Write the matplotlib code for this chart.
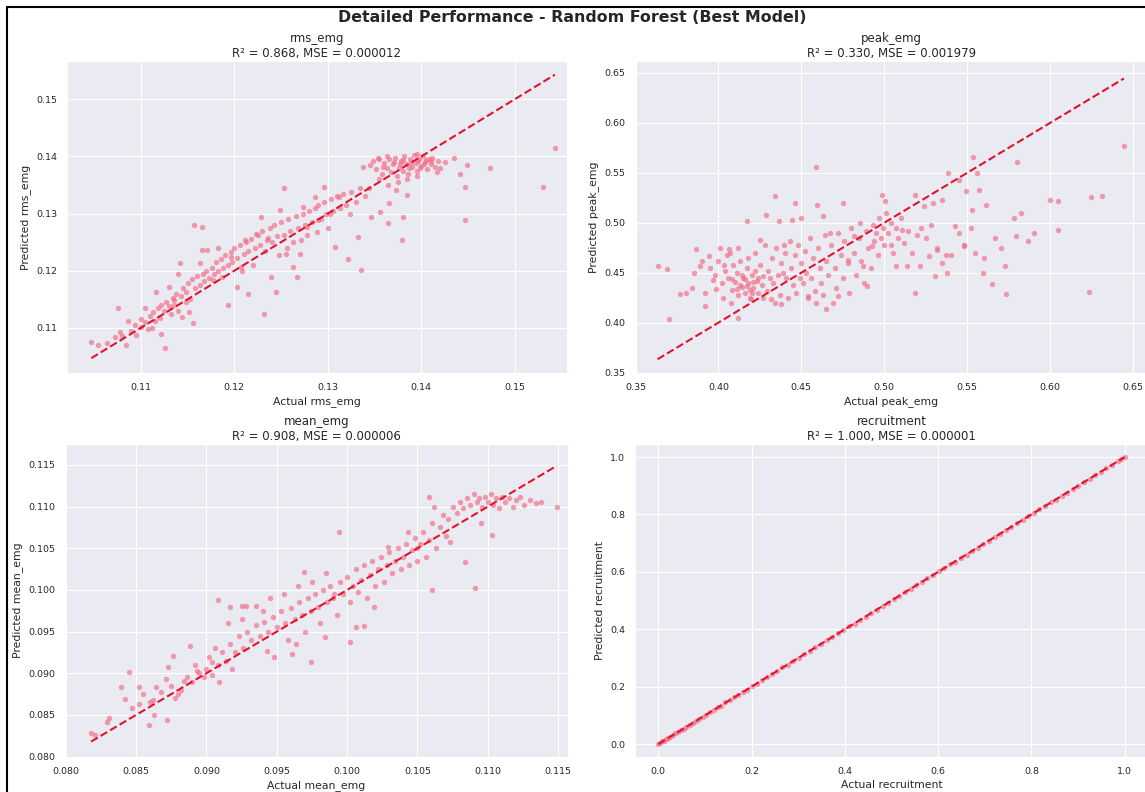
import matplotlib.pyplot as plt
from matplotlib.lines import Line2D
import numpy as np
import seaborn as sns

sns.set_style("darkgrid", {"grid.linewidth": 0.5})
plt.rcParams["font.family"] = "DejaVu Sans"

title = "Detailed Performance - Random Forest (Best Model)"
targets = ["rms_emg", "peak_emg", "mean_emg", "recruitment"]
r2 = [0.868, 0.330, 0.908, 1.000]
mse = [0.000012, 0.001979, 0.000006, 0.000001]

# (actual, predicted)
rms_pts = [
    (0.1047, 0.1075), (0.1054, 0.1070), (0.1064, 0.1073), (0.1072, 0.1084), (0.1076, 0.1134),
    (0.1078, 0.1093), (0.1084, 0.1070), (0.1086, 0.1112), (0.1094, 0.1105), (0.1100, 0.1116),
    (0.1104, 0.1134), (0.1112, 0.1099), (0.1116, 0.1163), (0.1122, 0.1090), (0.1126, 0.1064),
    (0.1130, 0.1172), (0.1136, 0.1148), (0.1140, 0.1195), (0.1142, 0.1213), (0.1144, 0.1119),
    (0.1148, 0.1146), (0.1152, 0.1128), (0.1156, 0.1108), (0.1157, 0.1280), (0.1165, 0.1277),
    (0.1165, 0.1236), (0.1163, 0.1213), (0.1171, 0.1236), (0.1177, 0.1183), (0.1183, 0.1239),
    (0.1187, 0.1189), (0.1193, 0.1140), (0.1197, 0.1224), (0.1203, 0.1172), (0.1207, 0.1207),
    (0.1211, 0.1254), (0.1215, 0.1160), (0.1223, 0.1265), (0.1229, 0.1294), (0.1232, 0.1125),
    (0.1235, 0.1254), (0.1239, 0.1189), (0.1245, 0.1163), (0.1249, 0.1306), (0.1253, 0.1344),
    (0.1255, 0.1230), (0.1263, 0.1207), (0.1267, 0.1189), (0.1271, 0.1254), (0.1274, 0.1312),
    (0.1278, 0.1277), (0.1286, 0.1329), (0.1290, 0.1289), (0.1296, 0.1347), (0.1302, 0.1300),
    (0.1308, 0.1242), (0.1312, 0.1329), (0.1322, 0.1221), (0.1324, 0.1300), (0.1332, 0.1259),
    (0.1336, 0.1201), (0.1338, 0.1382), (0.1344, 0.1344), (0.1346, 0.1294), (0.1354, 0.1397),
    (0.1356, 0.1303), (0.1363, 0.1400), (0.1365, 0.1283), (0.1366, 0.1318), (0.1373, 0.1341),
    (0.1379, 0.1254), (0.1381, 0.1294), (0.1385, 0.1332), (0.1395, 0.1405), (0.1405, 0.1394),
    (0.1417, 0.1373), (0.1425, 0.1391), (0.1435, 0.1397), (0.1441, 0.1370), (0.1447, 0.1347),
    (0.1447, 0.1289), (0.1449, 0.1385), (0.1474, 0.1379), (0.1530, 0.1347), (0.1543, 0.1415),
    (0.1080, 0.1085), (0.1090, 0.1095), (0.1095, 0.1088), (0.1100, 0.1102), (0.1105, 0.1110),
    (0.1108, 0.1098), (0.1110, 0.1120), (0.1113, 0.1128), (0.1115, 0.1112), (0.1118, 0.1135),
    (0.1120, 0.1118), (0.1122, 0.1140), (0.1125, 0.1130), (0.1127, 0.1145), (0.1130, 0.1138),
    (0.1132, 0.1125), (0.1134, 0.1152), (0.1136, 0.1140), (0.1138, 0.1160), (0.1140, 0.1130),
    (0.1143, 0.1155), (0.1145, 0.1170), (0.1148, 0.1162), (0.1150, 0.1178), (0.1153, 0.1150),
    (0.1155, 0.1185), (0.1158, 0.1170), (0.1160, 0.1190), (0.1163, 0.1175), (0.1166, 0.1195),
    (0.1168, 0.1182), (0.1170, 0.1200), (0.1173, 0.1188), (0.1176, 0.1205), (0.1178, 0.1195),
    (0.1180, 0.1215), (0.1183, 0.1200), (0.1186, 0.1220), (0.1188, 0.1205), (0.1190, 0.1228),
    (0.1193, 0.1210), (0.1196, 0.1232), (0.1198, 0.1215), (0.1200, 0.1240), (0.1203, 0.1222),
    (0.1206, 0.1245), (0.1208, 0.1200), (0.1210, 0.1230), (0.1213, 0.1250), (0.1215, 0.1235),
    (0.1218, 0.1255), (0.1220, 0.1210), (0.1222, 0.1240), (0.1225, 0.1262), (0.1228, 0.1245),
    (0.1230, 0.1270), (0.1233, 0.1235), (0.1236, 0.1258), (0.1238, 0.1275), (0.1240, 0.1250),
    (0.1243, 0.1280), (0.1246, 0.1260), (0.1248, 0.1228), (0.1250, 0.1285), (0.1253, 0.1262),
    (0.1256, 0.1240), (0.1258, 0.1290), (0.1260, 0.1270), (0.1263, 0.1250), (0.1266, 0.1295),
    (0.1268, 0.1275), (0.1270, 0.1230), (0.1273, 0.1300), (0.1276, 0.1280), (0.1278, 0.1262),
    (0.1280, 0.1305), (0.1283, 0.1285), (0.1286, 0.1310), (0.1288, 0.1268), (0.1290, 0.1315),
    (0.1293, 0.1290), (0.1296, 0.1320), (0.1298, 0.1300), (0.1300, 0.1275), (0.1303, 0.1325),
    (0.1306, 0.1305), (0.1310, 0.1330), (0.1313, 0.1310), (0.1316, 0.1335), (0.1320, 0.1315),
    (0.1325, 0.1338), (0.1330, 0.1320), (0.1335, 0.1345), (0.1340, 0.1330),
    (0.1345, 0.1385), (0.1348, 0.1392), (0.1352, 0.1378), (0.1355, 0.1395), (0.1358, 0.1370),
    (0.1360, 0.1388), (0.1363, 0.1380), (0.1366, 0.1395), (0.1368, 0.1372), (0.1370, 0.1386),
    (0.1372, 0.1398), (0.1374, 0.1365), (0.1376, 0.1380), (0.1378, 0.1392), (0.1380, 0.1375),
    (0.1382, 0.1400), (0.1384, 0.1386), (0.1386, 0.1370), (0.1388, 0.1395), (0.1390, 0.1382),
    (0.1392, 0.1402), (0.1394, 0.1388), (0.1396, 0.1375), (0.1398, 0.1396), (0.1400, 0.1384),
    (0.1402, 0.1400), (0.1404, 0.1390), (0.1406, 0.1378), (0.1408, 0.1396), (0.1410, 0.1386),
    (0.1412, 0.1398), (0.1415, 0.1382), (0.1418, 0.1392), (0.1420, 0.1380), (0.1375, 0.1355),
    (0.1365, 0.1350), (0.1385, 0.1360), (0.1395, 0.1366), (0.1355, 0.1360),
    (0.1371, 0.1390), (0.1381, 0.1393), (0.1389, 0.1388), (0.1397, 0.1392), (0.1403, 0.1387),
    (0.1411, 0.1392), (0.1359, 0.1382), (0.1387, 0.1379), (0.1399, 0.1380), (0.1377, 0.1386),
]

peak_pts = [
    (0.3633, 0.4565), (0.3688, 0.4538), (0.3704, 0.4039), (0.3766, 0.4282), (0.3806, 0.4298),
    (0.3843, 0.4348), (0.3865, 0.4738), (0.3888, 0.4565), (0.3921, 0.4165), (0.3943, 0.4664),
    (0.3965, 0.4431), (0.3987, 0.4332), (0.4009, 0.4748), (0.4031, 0.4581), (0.4065, 0.4738),
    (0.4076, 0.4199), (0.4120, 0.4049), (0.4175, 0.5014), (0.4198, 0.4232), (0.4253, 0.4831),
    (0.4286, 0.5080), (0.4319, 0.4232), (0.4341, 0.5263), (0.4364, 0.5014), (0.4375, 0.4182),
    (0.4397, 0.4781), (0.4441, 0.5030), (0.4463, 0.5197), (0.4496, 0.5047), (0.4541, 0.4265),
    (0.4589, 0.5563), (0.4596, 0.5180), (0.4629, 0.5063), (0.4651, 0.4132), (0.4674, 0.4897),
    (0.4718, 0.4265), (0.4751, 0.5197), (0.4784, 0.4631), (0.4818, 0.4864), (0.4851, 0.4997),
    (0.4873, 0.4565), (0.4895, 0.4365), (0.4928, 0.4764), (0.4984, 0.5280), (0.5006, 0.5213),
    (0.5039, 0.4781), (0.5072, 0.4565), (0.5105, 0.4930), (0.5139, 0.4565), (0.5183, 0.4298),
    (0.5183, 0.5280), (0.5216, 0.4565), (0.5238, 0.5163), (0.5271, 0.4664), (0.5294, 0.5197),
    (0.5305, 0.4465), (0.5316, 0.4731), (0.5349, 0.5230), (0.5371, 0.4681), (0.5382, 0.5496),
    (0.5426, 0.4964), (0.5449, 0.5429), (0.5482, 0.4764), (0.5493, 0.5313), (0.5526, 0.5130),
    (0.5537, 0.5662), (0.5559, 0.5496), (0.5570, 0.5330), (0.5593, 0.4498), (0.5604, 0.4648),
    (0.5615, 0.5180), (0.5648, 0.4382), (0.5670, 0.4847), (0.5703, 0.4747), (0.5725, 0.4565),
    (0.5736, 0.4282), (0.5781, 0.5047), (0.5792, 0.4864), (0.5803, 0.5612), (0.5825, 0.5097),
    (0.5869, 0.4814), (0.5903, 0.4897), (0.6002, 0.5230), (0.6046, 0.5213), (0.6046, 0.4930),
    (0.6235, 0.4305), (0.6246, 0.5256), (0.6312, 0.5263), (0.6445, 0.5772),
    (0.395, 0.455), (0.398, 0.448), (0.400, 0.462), (0.402, 0.440), (0.404, 0.452),
    (0.405, 0.468), (0.406, 0.445), (0.408, 0.433), (0.409, 0.458), (0.410, 0.441),
    (0.411, 0.450), (0.412, 0.428), (0.413, 0.462), (0.414, 0.436), (0.415, 0.445),
    (0.416, 0.430), (0.417, 0.455), (0.418, 0.440), (0.419, 0.425), (0.420, 0.448),
    (0.421, 0.435), (0.422, 0.470), (0.423, 0.442), (0.424, 0.430), (0.425, 0.458),
    (0.426, 0.438), (0.427, 0.447), (0.428, 0.478), (0.429, 0.432), (0.430, 0.452),
    (0.432, 0.465), (0.433, 0.440), (0.435, 0.475), (0.436, 0.448), (0.437, 0.428),
    (0.438, 0.460), (0.440, 0.470), (0.441, 0.445), (0.443, 0.482), (0.444, 0.455),
    (0.445, 0.438), (0.446, 0.468), (0.448, 0.478), (0.449, 0.445), (0.450, 0.460),
    (0.451, 0.440), (0.452, 0.472), (0.453, 0.450), (0.455, 0.485), (0.456, 0.445),
    (0.457, 0.465), (0.458, 0.432), (0.460, 0.475), (0.461, 0.455), (0.462, 0.440),
    (0.464, 0.488), (0.465, 0.462), (0.466, 0.448), (0.468, 0.478), (0.470, 0.455),
    (0.471, 0.435), (0.472, 0.490), (0.474, 0.468), (0.475, 0.445), (0.476, 0.482),
    (0.478, 0.460), (0.479, 0.430), (0.480, 0.495), (0.482, 0.470), (0.483, 0.448),
    (0.485, 0.485), (0.486, 0.462), (0.488, 0.440), (0.489, 0.492), (0.490, 0.475),
    (0.492, 0.455), (0.493, 0.498), (0.494, 0.482), (0.495, 0.490), (0.496, 0.468),
    (0.497, 0.505), (0.498, 0.485), (0.499, 0.495), (0.500, 0.478), (0.501, 0.510),
    (0.502, 0.490), (0.504, 0.500), (0.505, 0.470), (0.507, 0.495), (0.508, 0.485),
    (0.510, 0.505), (0.512, 0.480), (0.514, 0.492), (0.517, 0.470), (0.520, 0.488),
    (0.522, 0.495), (0.525, 0.485), (0.528, 0.498), (0.532, 0.475), (0.535, 0.460),
    (0.538, 0.450), (0.540, 0.468), (0.545, 0.490), (0.548, 0.478), (0.552, 0.495),
    (0.555, 0.470), (0.403, 0.425), (0.407, 0.470), (0.412, 0.475), (0.418, 0.465),
    (0.424, 0.445), (0.427, 0.425), (0.431, 0.445), (0.434, 0.420), (0.439, 0.450),
    (0.442, 0.425), (0.447, 0.430), (0.454, 0.425), (0.459, 0.420), (0.463, 0.428),
    (0.469, 0.420), (0.385, 0.450), (0.390, 0.462), (0.392, 0.430),
    (0.413, 0.438), (0.416, 0.444), (0.419, 0.433), (0.421, 0.441), (0.417, 0.437),
    (0.411, 0.434), (0.414, 0.448), (0.422, 0.452), (0.420, 0.430), (0.408, 0.444),
]

mean_pts = [
    (0.0818, 0.0828), (0.0821, 0.0826), (0.0829, 0.0842), (0.0831, 0.0846), (0.0839, 0.0883),
    (0.0842, 0.0869), (0.0845, 0.0901), (0.0847, 0.0858), (0.0852, 0.0863), (0.0852, 0.0883),
    (0.0859, 0.0838), (0.0860, 0.0865), (0.0863, 0.0850), (0.0864, 0.0883), (0.0871, 0.0893),
    (0.0872, 0.0844), (0.0873, 0.0907), (0.0876, 0.0921), (0.0880, 0.0875), (0.0884, 0.0891),
    (0.0888, 0.0933), (0.0893, 0.0903), (0.0904, 0.0913), (0.0908, 0.0988), (0.0909, 0.0889),
    (0.0917, 0.0979), (0.0918, 0.0905), (0.0925, 0.0981), (0.0928, 0.0981), (0.0935, 0.0981),
    (0.0943, 0.0927), (0.0948, 0.0919), (0.0961, 0.0923), (0.0964, 0.0935), (0.0969, 0.1022),
    (0.0974, 0.0913), (0.0984, 0.0943), (0.0991, 0.0995), (0.0994, 0.1070), (0.1002, 0.0937),
    (0.1006, 0.0955), (0.1012, 0.0957), (0.1019, 0.0979), (0.1029, 0.1052), (0.1043, 0.1070),
    (0.1050, 0.1050), (0.1060, 0.1000), (0.1073, 0.1058), (0.1084, 0.1034), (0.1091, 0.1002),
    (0.1095, 0.1080), (0.1103, 0.1066), (0.1134, 0.1104), (0.1149, 0.1100), (0.1058, 0.1112),
    (0.1062, 0.1100),
    (0.0855, 0.0875), (0.0862, 0.0868), (0.0868, 0.0878), (0.0875, 0.0885), (0.0878, 0.0870),
    (0.0882, 0.0880), (0.0886, 0.0895), (0.0890, 0.0890), (0.0892, 0.0910), (0.0895, 0.0900),
    (0.0898, 0.0895), (0.0900, 0.0905), (0.0902, 0.0920), (0.0904, 0.0898), (0.0906, 0.0930),
    (0.0908, 0.0910), (0.0911, 0.0925), (0.0914, 0.0915), (0.0917, 0.0935), (0.0920, 0.0925),
    (0.0923, 0.0945), (0.0926, 0.0930), (0.0929, 0.0950), (0.0932, 0.0940), (0.0935, 0.0958),
    (0.0938, 0.0945), (0.0941, 0.0962), (0.0944, 0.0950), (0.0947, 0.0968), (0.0950, 0.0955),
    (0.0953, 0.0975), (0.0956, 0.0960), (0.0958, 0.0940), (0.0960, 0.0978), (0.0963, 0.0965),
    (0.0966, 0.0985), (0.0968, 0.0970), (0.0970, 0.0950), (0.0972, 0.0990), (0.0974, 0.0975),
    (0.0977, 0.0995), (0.0979, 0.0980), (0.0981, 0.0960), (0.0983, 0.1000), (0.0986, 0.0985),
    (0.0988, 0.1005), (0.0990, 0.0990), (0.0993, 0.0970), (0.0995, 0.1010), (0.0997, 0.0995),
    (0.1000, 0.1015), (0.1002, 0.0985), (0.1004, 0.1005), (0.1006, 0.1025), (0.1008, 0.0998),
    (0.1010, 0.1012), (0.1012, 0.1030), (0.1014, 0.0990), (0.1016, 0.1018), (0.1018, 0.1035),
    (0.1020, 0.1005), (0.1022, 0.1025), (0.1024, 0.1040), (0.1026, 0.1010), (0.1028, 0.1030),
    (0.1030, 0.1045), (0.1032, 0.1020), (0.1034, 0.1035), (0.1036, 0.1050), (0.1038, 0.1025),
    (0.1040, 0.1040), (0.1042, 0.1055), (0.1044, 0.1030), (0.1046, 0.1048), (0.1048, 0.1062),
    (0.1050, 0.1035), (0.1052, 0.1055), (0.1054, 0.1070), (0.1056, 0.1040), (0.1058, 0.1060),
    (0.1060, 0.1080), (0.1063, 0.1050), (0.1066, 0.1075), (0.1068, 0.1090), (0.1070, 0.1065),
    (0.1072, 0.1085), (0.1075, 0.1100), (0.1078, 0.1092), (0.1080, 0.1105), (0.1082, 0.1098),
    (0.1085, 0.1110), (0.1087, 0.1102), (0.1090, 0.1115), (0.1092, 0.1105), (0.1094, 0.1110),
    (0.1096, 0.1100), (0.1098, 0.1112), (0.1100, 0.1106), (0.1102, 0.1115), (0.1104, 0.1102),
    (0.1106, 0.1110), (0.1108, 0.1098), (0.1110, 0.1112), (0.1112, 0.1105), (0.1115, 0.1110),
    (0.1118, 0.1100), (0.1120, 0.1108), (0.1123, 0.1112), (0.1126, 0.1102), (0.1130, 0.1108),
    (0.1138, 0.1105), (0.0915, 0.0960), (0.0925, 0.0965), (0.0940, 0.0975), (0.0945, 0.0990),
    (0.0955, 0.0995), (0.0965, 0.1005), (0.0975, 0.1010), (0.0985, 0.1020),
]

recruit_actual = [
    0.000, 0.004, 0.008, 0.012, 0.016, 0.021, 0.026, 0.031, 0.036, 0.042,
    0.048, 0.054, 0.060, 0.067, 0.074, 0.081, 0.088, 0.095, 0.103, 0.111,
    0.119, 0.127, 0.135, 0.144, 0.153, 0.162, 0.171, 0.181, 0.191, 0.201,
    0.211, 0.222, 0.233, 0.244, 0.255, 0.266, 0.277, 0.289, 0.301, 0.313,
    0.325, 0.337, 0.349, 0.361, 0.373, 0.385, 0.397, 0.409, 0.421, 0.433,
    0.445, 0.457, 0.469, 0.481, 0.493, 0.505, 0.517, 0.529, 0.541, 0.553,
    0.565, 0.577, 0.589, 0.601, 0.613, 0.625, 0.637, 0.649, 0.661, 0.673,
    0.685, 0.697, 0.709, 0.721, 0.733, 0.745, 0.757, 0.769, 0.781, 0.793,
    0.805, 0.817, 0.829, 0.841, 0.853, 0.865, 0.877, 0.889, 0.901, 0.913,
    0.925, 0.937, 0.949, 0.961, 0.973, 0.985, 0.993, 1.000,
]
recruit_pred = [
    0.001, 0.005, 0.009, 0.011, 0.017, 0.022, 0.025, 0.032, 0.037, 0.041,
    0.049, 0.053, 0.061, 0.068, 0.073, 0.082, 0.087, 0.096, 0.102, 0.112,
    0.118, 0.128, 0.134, 0.145, 0.152, 0.163, 0.170, 0.182, 0.190, 0.202,
    0.210, 0.223, 0.232, 0.245, 0.254, 0.267, 0.276, 0.290, 0.300, 0.314,
    0.324, 0.338, 0.348, 0.362, 0.372, 0.386, 0.396, 0.410, 0.420, 0.434,
    0.444, 0.458, 0.468, 0.482, 0.492, 0.506, 0.516, 0.530, 0.540, 0.554,
    0.564, 0.578, 0.588, 0.602, 0.612, 0.626, 0.636, 0.650, 0.660, 0.674,
    0.684, 0.698, 0.708, 0.722, 0.732, 0.746, 0.756, 0.770, 0.780, 0.794,
    0.804, 0.818, 0.828, 0.842, 0.852, 0.866, 0.876, 0.890, 0.900, 0.914,
    0.924, 0.938, 0.948, 0.962, 0.972, 0.986, 0.992, 0.999,
]

data = [np.array(rms_pts).T, np.array(peak_pts).T, np.array(mean_pts).T,
        np.array([recruit_actual, recruit_pred])]

fig = plt.figure(figsize=(11.45, 7.92), dpi=100)
# axes boxes in figure fractions (right column runs a little past the edge)
boxes = [(0.0585, 0.529, 0.4367, 0.394), (0.5546, 0.529, 0.448, 0.394),
         (0.0568, 0.0442, 0.4393, 0.395), (0.5546, 0.0442, 0.448, 0.395)]
xlims = [(0.1021, 0.1556), (0.3497, 0.659), (0.07995, 0.1157), (-0.05, 1.05)]
ylims = [(0.1021, 0.1567), (0.3495, 0.662), (0.07995, 0.1175), (-0.045, 1.045)]

for box, name, (act, pred), r, m, xl, yl in zip(boxes, targets, data, r2, mse, xlims, ylims):
    ax = fig.add_axes(box)
    ax.scatter(act, pred, s=15, alpha=0.65, color="#f26a84", linewidths=0)
    lo, hi = act.min(), act.max()
    ax.plot([lo, hi], [lo, hi], color="#e0142c", ls="--", lw=1.5)
    ax.set_xlim(xl)
    ax.set_ylim(yl)
    ax.set_xlabel(f"Actual {name}", fontsize=7.8, labelpad=3)
    ax.set_ylabel(f"Predicted {name}", fontsize=7.8)
    ax.set_title(f"{name}\nR² = {r:.3f}, MSE = {m:.6f}", fontsize=8.5, pad=3)
    ax.tick_params(labelsize=6.8)

fig.text(0.5, 1 - 18 / 792, title, fontsize=11.4, fontweight="bold",
         ha="center", va="center")

# dark frame on the left and top of the image
fig.add_artist(Line2D([7 / 1145, 7 / 1145], [0, 1 - 7 / 792], color="black", lw=1.5))
fig.add_artist(Line2D([7 / 1145, 1], [1 - 7 / 792, 1 - 7 / 792], color="black", lw=1.5))

plt.savefig("out.png", dpi=100)
